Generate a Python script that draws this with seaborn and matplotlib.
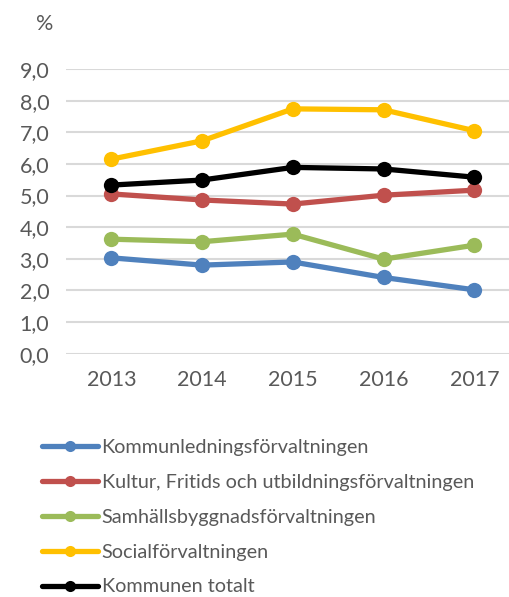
import pandas as pd
import matplotlib.pyplot as plt
import seaborn as sns

# Data
years = ["2013", "2014", "2015", "2016", "2017"]
kommunledning = [3.03, 2.80, 2.90, 2.41, 2.02]
kultur = [5.05, 4.86, 4.73, 5.01, 5.17]
samhallsbygg = [3.62, 3.54, 3.78, 2.99, 3.43]
social = [6.15, 6.73, 7.74, 7.71, 7.05]
totalt = [5.33, 5.49, 5.89, 5.84, 5.58]

series_names = [
    "Kommunledningsförvaltningen",
    "Kultur, Fritids och utbildningsförvaltningen",
    "Samhällsbyggnadsförvaltningen",
    "Socialförvaltningen",
    "Kommunen totalt",
]
series_values = [kommunledning, kultur, samhallsbygg, social, totalt]
colors = ["#4F81BD", "#C0504D", "#9BBB59", "#FFC000", "#000000"]

df = pd.DataFrame(
    [(name, y, v) for name, vals in zip(series_names, series_values) for y, v in zip(years, vals)],
    columns=["serie", "year", "value"],
)

sns.set_style("white")
plt.rcParams["font.family"] = ["Lato", "DejaVu Sans"]
text_color = "#595959"
fs = 15.5
leg_fs = 14.3

fig = plt.figure(figsize=(5.10, 5.97), dpi=100)
ax = fig.add_axes([66 / 510, 1 - 353.7 / 597, 1 - 66 / 510, (353.7 - 69) / 597])

sns.lineplot(
    data=df, x="year", y="value", hue="serie", hue_order=series_names,
    palette=colors, marker="o", markersize=11, markeredgewidth=0,
    linewidth=3.8, sort=False, legend=False, ax=ax,
)

ax.set_ylim(0, 9)
ax.set_xlim(-0.5, 4.393)
ax.set_yticks(range(0, 10))
ax.set_yticklabels([f"{v},0" for v in range(0, 10)])
ax.yaxis.grid(True, color="#D9D9D9", linewidth=1.5)
ax.set_axisbelow(True)
for s in ax.spines.values():
    s.set_visible(False)
ax.tick_params(axis="both", length=0, labelsize=fs, labelcolor=text_color)
ax.tick_params(axis="y", pad=12)
ax.tick_params(axis="x", pad=12)
ax.set_xlabel("")
ax.set_ylabel("")

fig.text(45 / 510, 1 - 24 / 597, "%", fontsize=fs, color=text_color, ha="center", va="center")

handles = ax.get_lines()[: len(series_names)]
leg = fig.legend(
    handles, series_names, loc="upper left", bbox_to_anchor=(42 / 510, 1 - 439 / 597),
    frameon=False, fontsize=leg_fs, handlelength=2.8, handletextpad=0.2,
    labelspacing=0.9, borderaxespad=0, borderpad=0,
)
for t in leg.get_texts():
    t.set_color(text_color)
for h in leg.legend_handles:
    h.set_markersize(8)

fig.savefig("out.png", dpi=100)
